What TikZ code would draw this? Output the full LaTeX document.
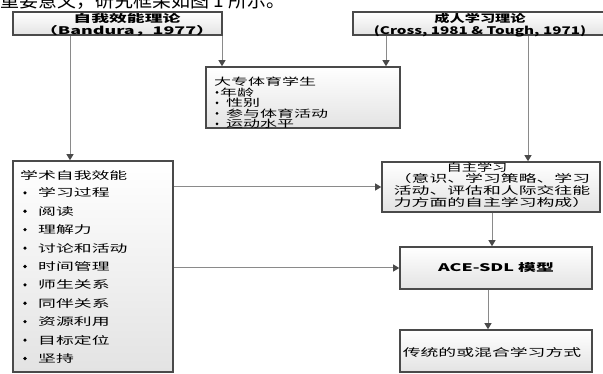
\documentclass[tikz,border=0pt]{standalone}
\usepackage{fontspec}
\setmainfont{Noto Sans CJK SC}
\newfontfamily\cjk[FakeStretch=1.7]{Noto Sans CJK SC}
\newfontfamily\cjkl[FakeStretch=1.45]{Noto Sans CJK SC}
\newfontfamily\cjkn{Noto Sans CJK SC}
\usetikzlibrary{arrows.meta,calc}
\definecolor{bd}{HTML}{4A4A4A}
\definecolor{ln}{HTML}{8A8A8A}
\tikzset{
  box/.style={draw=bd, line width=1.6pt, top color=white, bottom color=gray!22,
    inner sep=0pt, rectangle},
  conn/.style={draw=ln, line width=1pt, -{Triangle[length=6pt,width=7pt,color=bd]}},
  txt/.style={font=\cjk\fontsize{10.5}{11}\selectfont, inner sep=0pt},
  txtsm/.style={font=\cjk\fontsize{10}{10.5}\selectfont, inner sep=0pt},
  bulletdot/.style={circle, fill=black, inner sep=0pt, minimum size=3.6pt},
}
\begin{document}
\begin{tikzpicture}[x=1pt,y=-1pt]
\useasboundingbox (0,0) rectangle (603,374);
\clip (0,0) rectangle (603,374);

% heading text of the page, cut off at the top
\node[inner sep=0pt, anchor=base west, font=\cjkn\fontsize{19}{20}\selectfont] (head) at (0,8) {重要意义，研究框架如图 1 所示。};

% boxes
\node[box, minimum width=209pt, minimum height=23pt] (A) at (117.5,23.5) {};
\node[box, minimum width=257pt, minimum height=23pt] (B) at (481.5,23.5) {};
\node[box, minimum width=194pt, minimum height=61pt] (M) at (303,97.5) {};
\node[box, minimum width=160pt, minimum height=211pt] (L) at (93,266.5) {};
\node[box, minimum width=218pt, minimum height=50pt] (R) at (491,187) {};
\node[box, minimum width=192pt, minimum height=42pt] (ACE) at (496,268) {};
\node[box, minimum width=192pt, minimum height=42pt] (BOT) at (496,351) {};

% texts
\node[txt, align=center, font=\cjk\bfseries\fontsize{10.5}{11.5}\selectfont] (At) at (127,25) {自我效能理论\\（Bandura，1977）};
\node[txt, align=center, font=\cjkl\bfseries\fontsize{10.5}{11.5}\selectfont] (Bt) at (480,25) {成人学习理论\\(Cross, 1981 \& Tough, 1971)};

\node[txtsm, anchor=west] (Mt) at (214,82) {大专体育学生};
\node[bulletdot, minimum size=3pt] (mb1) at (217,92.5) {};
\node[txtsm, anchor=west] (mi1) at (220,92.5) {年龄};
\foreach \t/\y [count=\i from 2] in {性别/103,参与体育活动/113.5,运动水平/124}{
  \node[bulletdot, minimum size=3pt] (mb\i) at (217,\y) {};
  \node[txtsm, anchor=west] (mi\i) at (226,\y) {\t};
}

\node[txt, anchor=west] (Lt) at (20,175) {学术自我效能};
\foreach \t [count=\i] in {学习过程,阅读,理解力,讨论和活动,时间管理,师生关系,同伴关系,资源利用,目标定位,坚持}{
  \node[bulletdot] (lb\i) at (25,174.5+18.4*\i) {};
  \node[txt, anchor=west] (li\i) at (38,174.5+18.4*\i) {\t};
}

\node[inner sep=0pt, font=\cjkl\fontsize{10.5}{11}\selectfont] (Rt1) at (477,167) {自主学习};
\node[txt, align=center, font=\cjk\fontsize{10.5}{12}\selectfont] (Rt2) at (492,191)
  {（意识、学习策略、学习\\活动、评估和人际交往能\\力方面的自主学习构成）};
\node[txt, font=\cjk\bfseries\fontsize{10.5}{11}\selectfont] (ACEt) at (496,268) {ACE-SDL 模型};
\node[txt] (BOTt) at (492,352) {传统的或混合学习方式};

% connector x positions
\coordinate (xa1) at (70,0);
\coordinate (xa2) at (222,0);
\coordinate (xb1) at (386,0);
\coordinate (xb2) at (528,0);
\coordinate (xr) at (492,0);
\coordinate (xc) at (488,0);

\draw[conn] (A.south -| xa1) -- (L.north -| xa1);
\draw[conn] (A.south -| xa2) -- (M.north -| xa2);
\draw[conn] (B.south -| xb1) -- (M.north -| xb1);
\draw[conn] (B.south -| xb2) -- (R.north -| xb2);
\draw[conn] (L.east |- R.west) -- (R.west);
\draw[conn] (L.east |- ACE.west) -- (ACE.west);
\draw[conn] (R.south -| xr) -- (ACE.north -| xr);
\draw[conn] (ACE.south -| xc) -- (BOT.north -| xc);
\end{tikzpicture}
\end{document}
